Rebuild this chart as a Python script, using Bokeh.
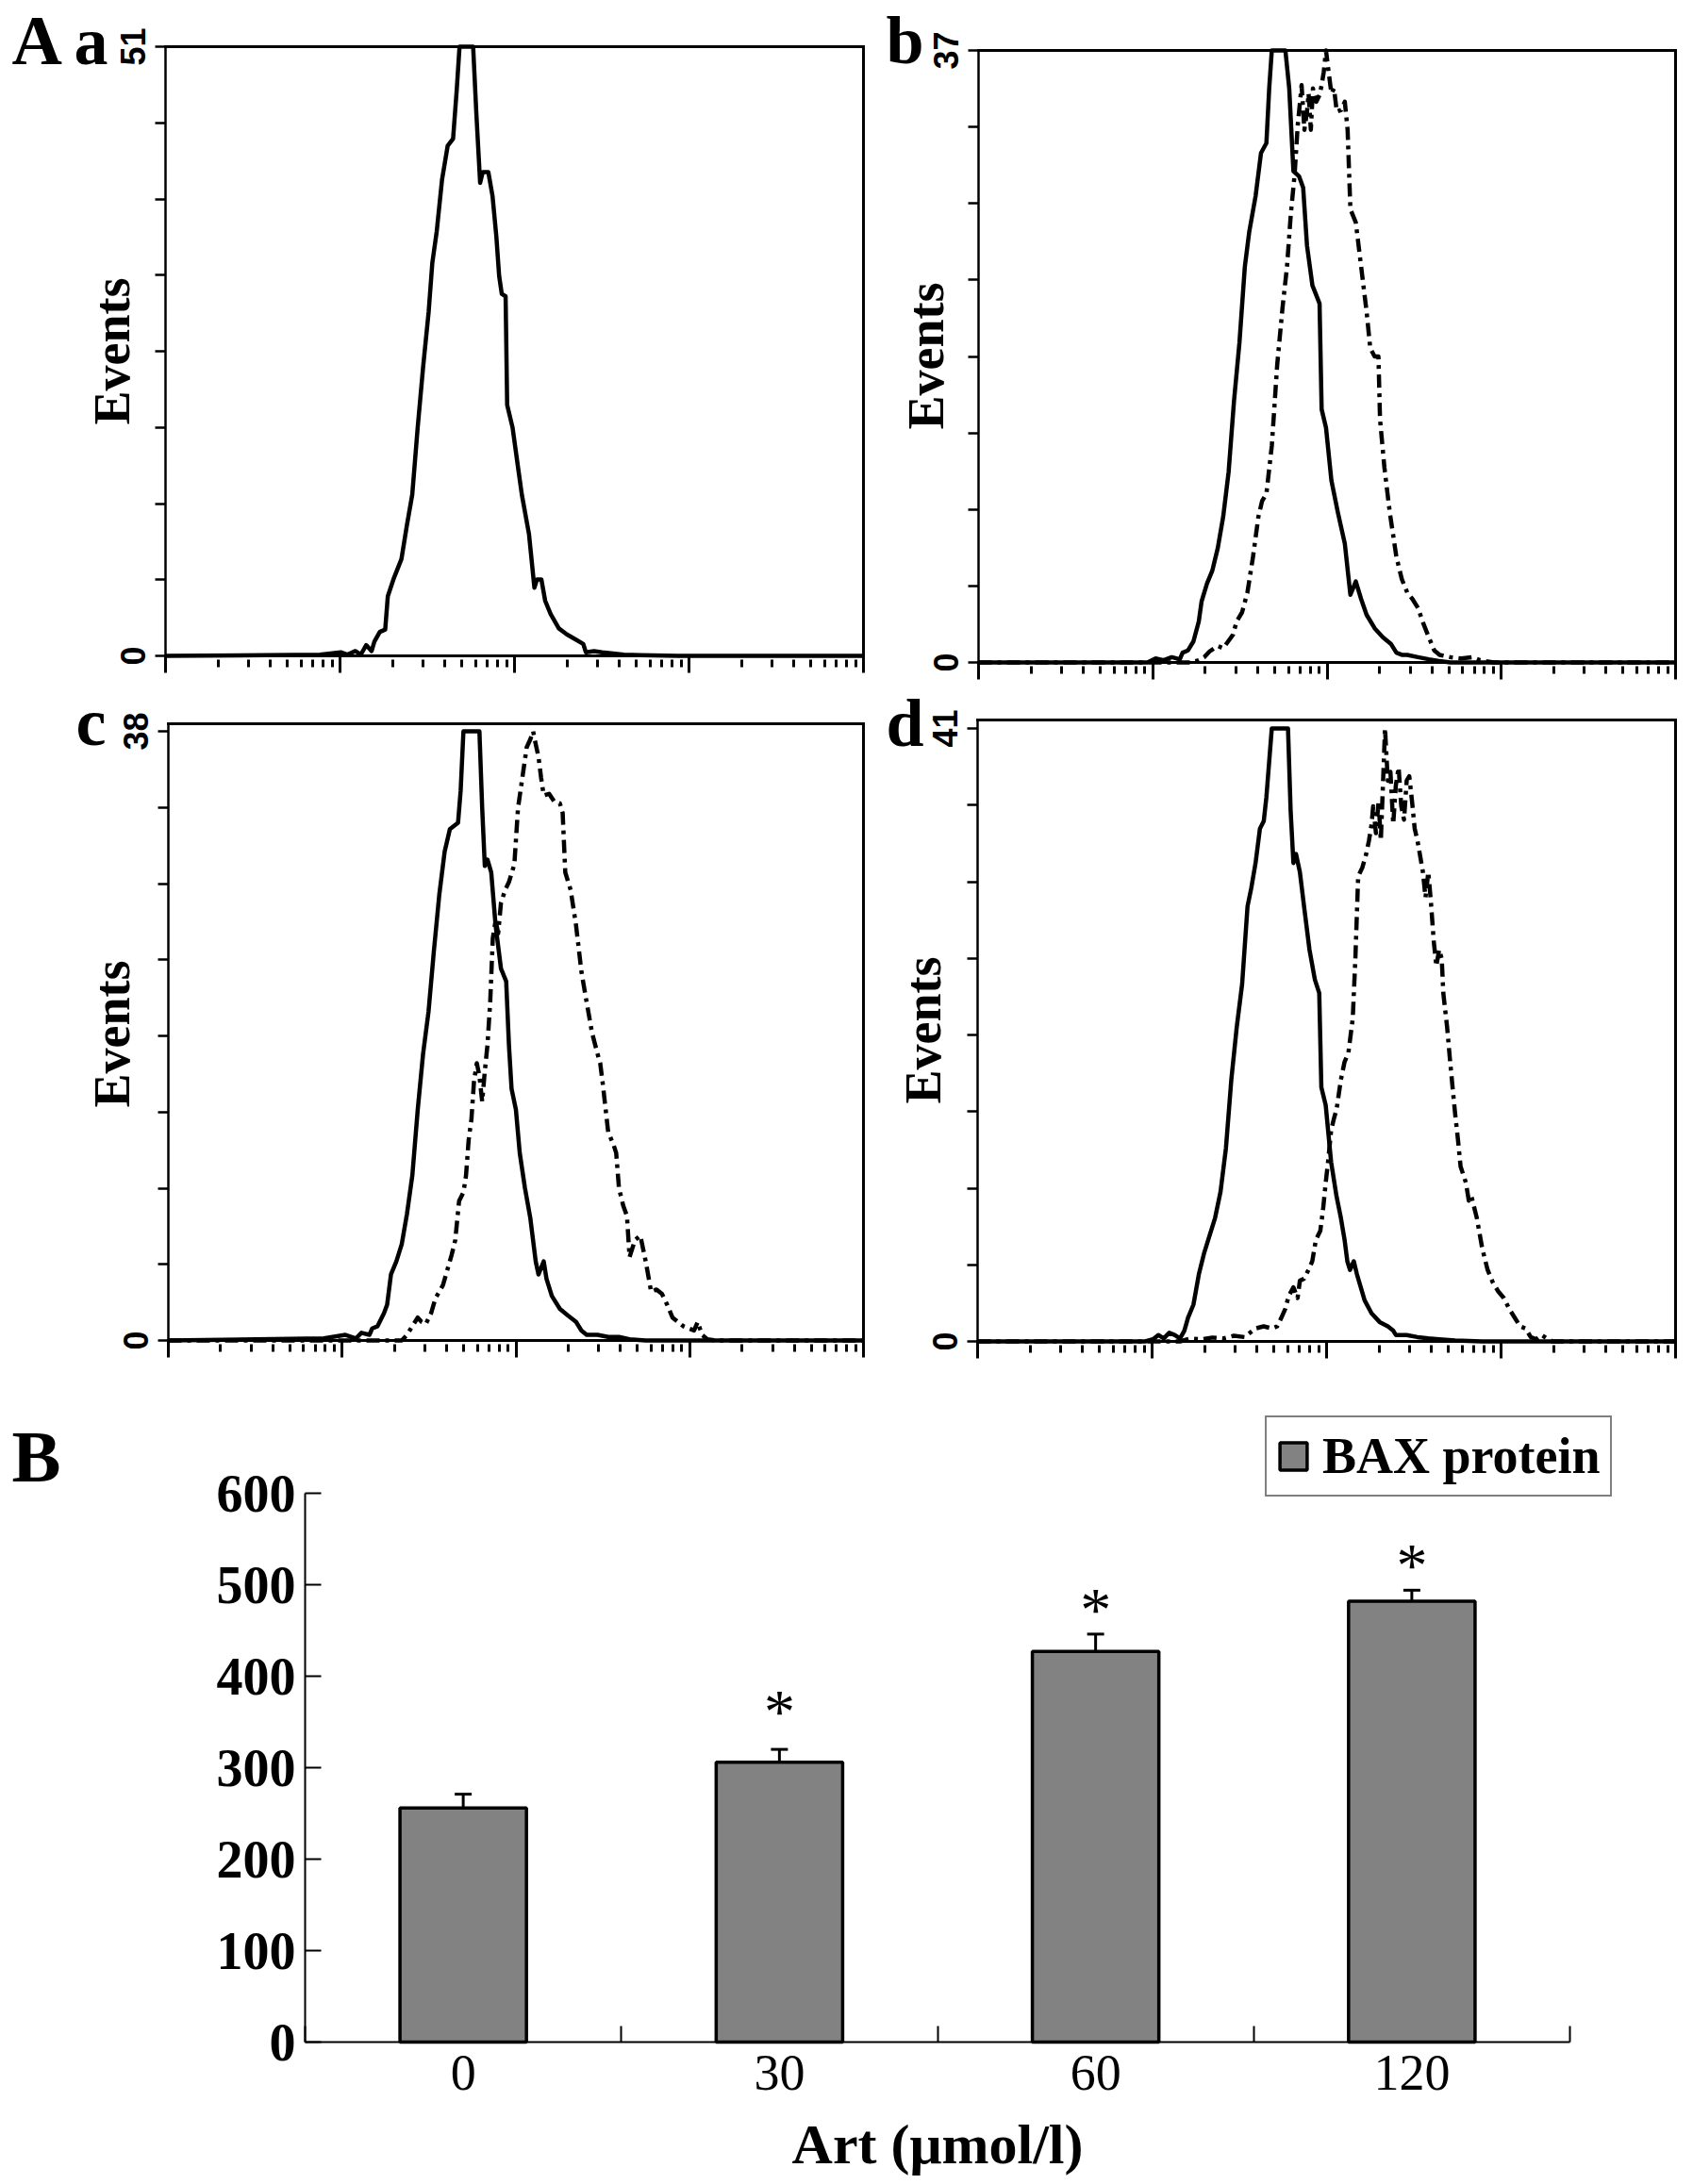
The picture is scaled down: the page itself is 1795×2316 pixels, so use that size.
import math
from bokeh.plotting import figure
from bokeh.layouts import column, row
from bokeh.models import (Range1d, FixedTicker, Label, ColumnDataSource, Whisker,
                          TeeHead, Legend, LegendItem, LinearAxis, LogAxis)
from bokeh.core.properties import value
from bokeh.embed import file_html
from bokeh.resources import INLINE

SERIF = "Liberation Serif"
SANS = "Liberation Sans"

# ---------------- Panel A data: (log10 fluorescence, events) ----------------
a_max = 51
a_ctrl = [(0.0, 0), (0.886, 0.1), (1.004, 0.3), (1.041, 0.1), (1.088, 0.4), (1.119, 0.1),
          (1.150, 0.9), (1.181, 0.4), (1.197, 1.2), (1.228, 2.0), (1.259, 2.2), (1.274, 5.0),
          (1.306, 6.4), (1.352, 8.1), (1.383, 10.9), (1.414, 13.5), (1.445, 19.1), (1.477, 24.3),
          (1.508, 28.8), (1.529, 32.9), (1.554, 35.5), (1.585, 39.9), (1.617, 42.7), (1.648, 43.3),
          (1.669, 47.4), (1.685, 51), (1.763, 51), (1.781, 45.5), (1.803, 39.6), (1.818, 40.5),
          (1.850, 40.5), (1.874, 38.5), (1.896, 35.1), (1.912, 31.8), (1.927, 30.3), (1.949, 30.1),
          (1.958, 21.0), (1.989, 19.1), (2.021, 15.7), (2.042, 13.5), (2.083, 10.2), (2.114, 5.7),
          (2.129, 6.4), (2.154, 6.4), (2.176, 4.6), (2.207, 3.5), (2.254, 2.3), (2.300, 1.8),
          (2.347, 1.4), (2.394, 1.0), (2.409, 0.3), (2.456, 0.4), (2.502, 0.3), (2.565, 0.2),
          (2.627, 0.1), (2.720, 0.05), (2.937, 0), (4.0, 0)]

b_max = 37
b_ctrl = [(0.0, 0), (0.969, 0), (1.016, 0.24), (1.062, 0.13), (1.109, 0.32), (1.155, 0.19),
          (1.171, 0.59), (1.202, 0.73), (1.233, 1.27), (1.264, 2.48), (1.280, 3.69), (1.311, 4.77),
          (1.342, 5.57), (1.373, 6.92), (1.404, 8.81), (1.435, 11.5), (1.466, 15.8), (1.497, 19.3),
          (1.528, 23.9), (1.553, 26.0), (1.590, 28.2), (1.621, 30.8), (1.652, 31.4), (1.668, 34.7),
          (1.683, 37), (1.761, 37), (1.783, 34.7), (1.807, 29.7), (1.839, 29.4), (1.863, 28.7),
          (1.885, 25.2), (1.916, 22.8), (1.957, 21.7), (1.969, 15.3), (1.994, 14.2), (2.025, 11.0),
          (2.062, 9.07), (2.102, 7.19), (2.124, 5.04), (2.134, 4.09), (2.165, 4.90), (2.196, 3.82),
          (2.227, 2.88), (2.273, 2.07), (2.320, 1.53), (2.366, 1.13), (2.398, 0.59), (2.429, 0.46),
          (2.460, 0.46), (2.522, 0.32), (2.584, 0.19), (2.646, 0.08), (2.708, 0), (4.0, 0)]
b_art = [(0.0, 0), (1.217, 0), (1.264, 0.13), (1.295, 0.32), (1.326, 0.67), (1.373, 1.00),
         (1.404, 0.86), (1.441, 1.40), (1.460, 1.67), (1.481, 2.48), (1.512, 3.02), (1.543, 4.23),
         (1.575, 6.38), (1.606, 8.81), (1.627, 9.75), (1.652, 10.2), (1.683, 13.1), (1.714, 18.0),
         (1.745, 21.5), (1.770, 23.9), (1.792, 27.1), (1.814, 29.5), (1.832, 32.5), (1.845, 33.9),
         (1.854, 34.9), (1.870, 32.2), (1.885, 33.3), (1.894, 34.4), (1.907, 32.2), (1.919, 34.7),
         (1.938, 33.9), (1.957, 34.3), (1.969, 34.9), (1.981, 35.7), (1.994, 37), (2.009, 35.7),
         (2.025, 34.4), (2.040, 34.7), (2.056, 33.3), (2.081, 33.4), (2.102, 33.9), (2.118, 32.2),
         (2.134, 27.4), (2.165, 26.6), (2.196, 23.9), (2.227, 21.2), (2.248, 19.0), (2.273, 18.5),
         (2.295, 18.5), (2.304, 14.7), (2.329, 11.8), (2.360, 9.07), (2.398, 6.38), (2.429, 5.04),
         (2.460, 4.23), (2.491, 3.82), (2.522, 3.29), (2.553, 2.34), (2.584, 1.53), (2.615, 0.73),
         (2.646, 0.46), (2.708, 0.32), (2.770, 0.24), (2.832, 0.32), (2.879, 0.13), (2.957, 0),
         (4.0, 0)]

c_max = 38
c_ctrl = [(0.0, 0), (0.895, 0.13), (1.019, 0.35), (1.080, 0.13), (1.111, 0.48), (1.157, 0.35),
          (1.173, 0.75), (1.204, 0.89), (1.241, 1.70), (1.259, 2.24), (1.281, 4.12), (1.312, 4.93),
          (1.343, 6.01), (1.373, 7.89), (1.404, 10.3), (1.435, 14.4), (1.466, 17.9), (1.497, 20.5),
          (1.528, 24.3), (1.559, 27.8), (1.590, 30.5), (1.620, 31.9), (1.667, 32.3), (1.682, 34.3),
          (1.698, 38), (1.790, 38), (1.806, 33.2), (1.821, 29.6), (1.836, 30.0), (1.858, 29.2),
          (1.883, 25.9), (1.914, 23.2), (1.944, 22.4), (1.960, 18.4), (1.975, 15.7), (2.000, 14.4),
          (2.022, 11.7), (2.052, 9.51), (2.083, 7.62), (2.114, 4.93), (2.130, 4.12), (2.160, 4.93),
          (2.176, 3.85), (2.207, 2.77), (2.253, 1.97), (2.299, 1.56), (2.346, 1.16), (2.377, 0.62),
          (2.407, 0.35), (2.469, 0.35), (2.531, 0.22), (2.593, 0.22), (2.654, 0.08), (2.747, 0),
          (4.0, 0)]
c_art = [(0.0, 0), (1.343, 0), (1.373, 0.35), (1.404, 0.89), (1.435, 1.43), (1.457, 1.16),
         (1.481, 1.02), (1.512, 1.70), (1.537, 2.64), (1.559, 3.04), (1.580, 3.45), (1.605, 4.39),
         (1.630, 5.33), (1.651, 6.27), (1.673, 8.70), (1.698, 9.24), (1.713, 10.3), (1.728, 12.5),
         (1.744, 13.8), (1.759, 16.2), (1.775, 17.3), (1.790, 16.5), (1.806, 14.9), (1.821, 16.8),
         (1.836, 18.4), (1.852, 21.1), (1.867, 25.1), (1.883, 26.2), (1.898, 25.4), (1.914, 27.3),
         (1.938, 28.1), (1.960, 28.6), (1.991, 29.7), (2.012, 33.2), (2.037, 35.1), (2.062, 37.0),
         (2.083, 37.5), (2.099, 38), (2.114, 37.2), (2.130, 36.4), (2.145, 35.1), (2.160, 34.0),
         (2.191, 34.1), (2.222, 33.6), (2.253, 33.5), (2.269, 32.9), (2.284, 29.2), (2.315, 28.1),
         (2.346, 25.9), (2.377, 23.0), (2.407, 21.1), (2.438, 19.2), (2.469, 17.9), (2.485, 17.3),
         (2.500, 16.0), (2.531, 13.0), (2.562, 12.2), (2.577, 11.7), (2.593, 9.51), (2.617, 8.43),
         (2.639, 7.76), (2.654, 5.20), (2.685, 6.27), (2.716, 6.54), (2.747, 4.93), (2.778, 3.04),
         (2.809, 3.18), (2.840, 2.91), (2.870, 2.24), (2.901, 1.43), (2.932, 1.16), (2.963, 0.89),
         (2.994, 0.75), (3.025, 0.62), (3.046, 1.16), (3.071, 0.35), (3.102, 0.08), (3.148, 0),
         (4.0, 0)]

d_max = 41
d_ctrl = [(0.0, 0), (0.96, 0), (1.005, 0.14), (1.036, 0.43), (1.067, 0.20), (1.098, 0.58),
          (1.129, 0.43), (1.160, 0.20), (1.185, 0.72), (1.206, 1.59), (1.237, 2.46), (1.268, 4.49),
          (1.299, 5.94), (1.330, 7.10), (1.361, 8.26), (1.392, 10.0), (1.423, 12.9), (1.454, 17.5),
          (1.485, 21.0), (1.516, 23.9), (1.547, 29.1), (1.568, 30.3), (1.593, 32.0), (1.618, 34.3),
          (1.640, 34.8), (1.655, 36.4), (1.686, 41), (1.779, 41), (1.794, 35.5), (1.810, 32.0),
          (1.825, 32.6), (1.847, 31.4), (1.871, 29.1), (1.902, 26.2), (1.933, 24.2), (1.958, 23.3),
          (1.970, 17.0), (1.995, 15.8), (2.026, 12.0), (2.057, 9.71), (2.082, 8.26), (2.103, 6.81),
          (2.119, 5.36), (2.134, 4.78), (2.156, 5.36), (2.174, 4.49), (2.196, 3.62), (2.218, 2.75),
          (2.258, 1.88), (2.304, 1.30), (2.351, 1.01), (2.382, 0.72), (2.397, 0.43), (2.459, 0.43),
          (2.521, 0.29), (2.583, 0.20), (2.645, 0.14), (2.737, 0.06), (2.892, 0), (4.0, 0)]
d_art = [(0.0, 0), (1.160, 0), (1.222, 0.20), (1.284, 0.14), (1.345, 0.26), (1.407, 0.20),
         (1.469, 0.38), (1.531, 0.29), (1.593, 0.87), (1.639, 1.01), (1.686, 0.87), (1.717, 1.01),
         (1.741, 1.59), (1.763, 2.17), (1.783, 3.04), (1.810, 3.62), (1.834, 2.90), (1.847, 4.06),
         (1.871, 4.20), (1.896, 4.78), (1.918, 5.36), (1.939, 6.81), (1.964, 7.39), (1.980, 8.84),
         (1.995, 10.6), (2.011, 12.3), (2.026, 14.1), (2.042, 14.9), (2.057, 15.5), (2.082, 17.5),
         (2.103, 18.7), (2.125, 19.3), (2.150, 21.6), (2.165, 25.6), (2.181, 31.1), (2.205, 31.7),
         (2.227, 32.6), (2.243, 33.5), (2.258, 34.6), (2.267, 35.8), (2.283, 34.0), (2.298, 36.1),
         (2.311, 33.5), (2.323, 37.2), (2.335, 41), (2.351, 37.5), (2.366, 38.1), (2.382, 34.6),
         (2.397, 37.2), (2.413, 38.4), (2.428, 35.8), (2.444, 34.9), (2.459, 37.5), (2.474, 37.8),
         (2.490, 36.1), (2.505, 34.3), (2.521, 33.5), (2.552, 31.4), (2.567, 29.7), (2.583, 31.4),
         (2.598, 29.4), (2.614, 26.8), (2.629, 25.1), (2.645, 26.2), (2.660, 25.6), (2.669, 23.3),
         (2.691, 21.0), (2.706, 19.0), (2.722, 17.0), (2.737, 15.2), (2.753, 13.5), (2.768, 11.7),
         (2.799, 10.6), (2.815, 9.42), (2.830, 9.71), (2.861, 8.26), (2.892, 6.23), (2.923, 4.78),
         (2.954, 3.91), (2.985, 3.33), (3.016, 2.90), (3.047, 2.17), (3.078, 1.59), (3.109, 1.01),
         (3.140, 0.87), (3.170, 0.29), (3.201, 0.14), (3.232, 0.43), (3.263, 0.20), (3.294, 0),
         (4.0, 0)]

# log axis ticks (decades and 2..9 minor ticks)
decades = [0, 1, 2, 3, 4]
minor_mult = [2, 3, 4, 5, 6, 7, 8, 9]

# ---------------- Panel B data ----------------
art_doses = ["0", "30", "60", "120"]
bax_mean = [256, 306, 427, 482]
bax_err = [15, 14, 19, 12]
star_doses = ["30", "60", "120"]
star_level = [367, 478, 527]
bax_yticks = [0, 100, 200, 300, 400, 500, 600]

# ---------------- layout geometry (page pixels; the Bokeh page has no body margin) -------
COL_X = [0, 933, 1788]
ROW_Y = [0, 721, 1460, 2316]
BASELINE_FIX = 0.37   # em shift to put the alphabetic baseline where it is wanted


def text_label(fig_rect, px, py, txt, size_px, angle=0.0, align="left", font=SERIF,
               style="bold"):
    fx0, fy0, fx1, fy1 = fig_rect
    d = BASELINE_FIX * size_px
    sx = px - fx0 - d * math.sin(angle)
    sy = fy1 - py + d * math.cos(angle)
    return Label(x=sx, y=sy, x_units="screen", y_units="screen", text=txt,
                 angle=angle, text_font=font, text_font_style=style,
                 text_font_size=f"{size_px}px", text_align=align,
                 text_baseline="alphabetic", text_color="black")


def hidden_labels(axis):
    axis.major_label_text_font_size = "1px"
    axis.major_label_text_color = None


def hist_fig(fig_rect, box, ctrl, art, ymax, letter_pos, letter, events_pos, big=None):
    fx0, fy0, fx1, fy1 = fig_rect
    L, R, t_max, b0, t_top = box
    ndec = decades[-1] - decades[0]
    dpx = (R - L) / ndec
    x_start = 10 ** (decades[0] - (L - fx0) / dpx)
    x_end = 10 ** (decades[-1] + (fx1 - R) / dpx)
    ppu = (b0 - t_max) / ymax
    y_start = -(fy1 - b0) / ppu
    y_end = ymax + (t_max - fy0) / ppu
    y_top = ymax + (t_max - t_top) / ppu
    x_lo, x_hi = 10.0 ** decades[0], 10.0 ** decades[-1]

    p = figure(width=fx1 - fx0, height=fy1 - fy0, min_border=0, x_axis_type="log",
               x_range=Range1d(x_start, x_end), y_range=Range1d(y_start, y_end),
               x_axis_location=None, y_axis_location=None,
               output_backend="svg", toolbar_location=None)
    p.grid.visible = False
    p.outline_line_color = None

    major = [10.0 ** d for d in decades]
    minor = [m * 10.0 ** d for d in decades[:-1] for m in minor_mult]
    xa = LogAxis(fixed_location=0, bounds=(x_lo, x_hi),
                 ticker=FixedTicker(ticks=major, minor_ticks=minor))
    xa.axis_line_width = 3
    xa.axis_line_cap = "square"
    xa.major_tick_in = 0
    xa.major_tick_out = 18
    xa.major_tick_line_width = 3
    xa.minor_tick_in = -4
    xa.minor_tick_out = 12
    xa.minor_tick_line_width = 3
    hidden_labels(xa)
    p.add_layout(xa, "below")

    y_ticks = [0, ymax]
    ya = LinearAxis(fixed_location=x_lo, bounds=(0, y_top),
                    ticker=FixedTicker(ticks=y_ticks,
                                       minor_ticks=[ymax * k / 8 for k in range(1, 8)]))
    ya.axis_line_width = 2.5
    ya.axis_line_cap = "square"
    ya.major_tick_in = 0
    ya.major_tick_out = 11
    ya.minor_tick_in = 0
    ya.minor_tick_out = 11
    ya.major_tick_line_width = 2.5
    ya.minor_tick_line_width = 2.5
    hidden_labels(ya)
    p.add_layout(ya, "left")

    top = LinearAxis(fixed_location=y_top, bounds=(x_lo, x_hi), ticker=FixedTicker(ticks=[]))
    top.axis_line_width = 3
    top.axis_line_cap = "square"
    hidden_labels(top)
    p.add_layout(top, "above")
    right = LinearAxis(fixed_location=x_hi, bounds=(0, y_top), ticker=FixedTicker(ticks=[]))
    right.axis_line_width = 3
    right.axis_line_cap = "square"
    hidden_labels(right)
    p.add_layout(right, "right")

    if ctrl is not None:
        xs, ys = zip(*ctrl)
        p.line([10 ** v for v in xs], list(ys), line_color="black", line_width=4.5,
               line_join="round")
    if art is not None:
        xs, ys = zip(*art)
        p.line([10 ** v for v in xs], list(ys), line_color="black", line_width=4.5,
               line_join="round", line_dash="14 6 4 6")

    # vertical tick labels of the Events axis (0 and the maximum count)
    for tv, ty in zip(y_ticks, (b0, t_max)):
        p.add_layout(text_label(fig_rect, L - 21, ty, str(tv), 36, angle=math.pi / 2,
                                align="center", font=SANS, style="bold"))

    p.add_layout(text_label(fig_rect, letter_pos[0], letter_pos[1], letter, 72))
    if big is not None:
        p.add_layout(text_label(fig_rect, big[0], big[1], big[2], 74))
    p.add_layout(text_label(fig_rect, events_pos[0], events_pos[1], "Events", 54,
                            angle=math.pi / 2, align="center"))
    return p


rect_a = (COL_X[0], ROW_Y[0], COL_X[1], ROW_Y[1])
rect_b = (COL_X[1], ROW_Y[0], COL_X[2], ROW_Y[1])
rect_c = (COL_X[0], ROW_Y[1], COL_X[1], ROW_Y[2])
rect_d = (COL_X[1], ROW_Y[1], COL_X[2], ROW_Y[2])

pa = hist_fig(rect_a, (175, 915, 49, 695, 49), a_ctrl, None, a_max, (78, 70), "a",
              (138, 372), big=(12, 70, "A"))
pb = hist_fig(rect_b, (1037, 1776, 53, 702, 53), b_ctrl, b_art, b_max, (939, 69), "b",
              (1001, 377))
pc = hist_fig(rect_c, (178, 915, 775, 1421, 767), c_ctrl, c_art, c_max, (80, 792), "c",
              (138, 1096))
pd = hist_fig(rect_d, (1036, 1776, 772, 1422, 763), d_ctrl, d_art, d_max, (939, 793), "d",
              (998, 1092))

# ---------------- Panel B ----------------
rect_B = (COL_X[0], ROW_Y[2], COL_X[2], ROW_Y[3])
bx0, by0, bx1, by1 = rect_B
AX_L, AX_R, Y_TOP_PX, Y0_PX = 323, 1664, 1583, 2165
ncat = len(art_doses)
cpx = (AX_R - AX_L) / ncat
ppu_B = (Y0_PX - Y_TOP_PX) / bax_yticks[-1]

pos = [i + 0.5 for i in range(ncat)]
upper = [m + e for m, e in zip(bax_mean, bax_err)]
src = ColumnDataSource(dict(x=pos, top=bax_mean, upper=upper, lower=bax_mean))

pB = figure(width=bx1 - bx0, height=by1 - by0, min_border=0,
            x_range=Range1d(-(AX_L - bx0) / cpx, ncat + (bx1 - AX_R) / cpx),
            y_range=Range1d(-(by1 - Y0_PX) / ppu_B, bax_yticks[-1] + (Y_TOP_PX - by0) / ppu_B),
            x_axis_location=None, y_axis_location=None,
            output_backend="svg", toolbar_location=None)
pB.grid.visible = False
pB.outline_line_color = None

bars = pB.vbar(x="x", top="top", width=0.4, source=src, fill_color="#828282",
               line_color="black", line_width=3.5)
pB.add_layout(Whisker(source=src, base="x", upper="upper", lower="lower",
                      dimension="height", line_width=3, line_color="black",
                      upper_head=TeeHead(size=18, line_width=3, line_color="black"),
                      lower_head=None))

star_x = [pos[art_doses.index(d)] for d in star_doses]
pB.text(x=star_x, y=star_level, text=["*"] * len(star_x), text_font=value(SERIF),
        text_font_size="66px", text_align="center", text_baseline="alphabetic",
        y_offset=5, text_color="black")

xb = LinearAxis(fixed_location=0, bounds=(0, ncat),
                ticker=FixedTicker(ticks=pos, minor_ticks=list(range(ncat + 1))))
xb.major_label_overrides = {p: d for p, d in zip(pos, art_doses)}
xb.major_tick_line_color = None
xb.major_tick_in = 0
xb.major_tick_out = 0
xb.minor_tick_in = 17
xb.minor_tick_out = 0
xb.minor_tick_line_width = 2
xb.axis_line_width = 2
xb.major_label_text_font = SERIF
xb.major_label_text_font_size = "54px"
xb.major_label_text_color = "black"
xb.major_label_standoff = 14
xb.axis_label = "Art (μmol/l)"
xb.axis_label_text_font = SERIF
xb.axis_label_text_font_style = "bold"
xb.axis_label_text_font_size = "60px"
xb.axis_label_text_color = "black"
xb.axis_label_standoff = 22
pB.add_layout(xb, "below")

yb = LinearAxis(fixed_location=0, bounds=(0, bax_yticks[-1]),
                ticker=FixedTicker(ticks=bax_yticks))
yb.major_tick_in = 17
yb.major_tick_out = 0
yb.major_tick_line_width = 2
yb.minor_tick_line_color = None
yb.axis_line_width = 2
yb.major_label_text_font = SERIF
yb.major_label_text_font_style = "bold"
yb.major_label_text_font_size = "56px"
yb.major_label_text_color = "black"
yb.major_label_standoff = 10
pB.add_layout(yb, "left")

legend = Legend(items=[LegendItem(label="BAX protein", renderers=[bars])],
                location=(1341 - bx0, by1 - 1587), border_line_color="black",
                border_line_width=2, background_fill_color="white", background_fill_alpha=1.0,
                padding=10, spacing=0, margin=0, label_standoff=13,
                glyph_width=36, glyph_height=36,
                label_text_font=SERIF, label_text_font_style="bold",
                label_text_font_size="54px", label_text_color="black")
pB.add_layout(legend)

pB.add_layout(text_label(rect_B, 12, 1573, "B", 78))

layout = column(row(pa, pb), row(pc, pd), pB)
open("out.html", "w").write(file_html(layout, INLINE))
